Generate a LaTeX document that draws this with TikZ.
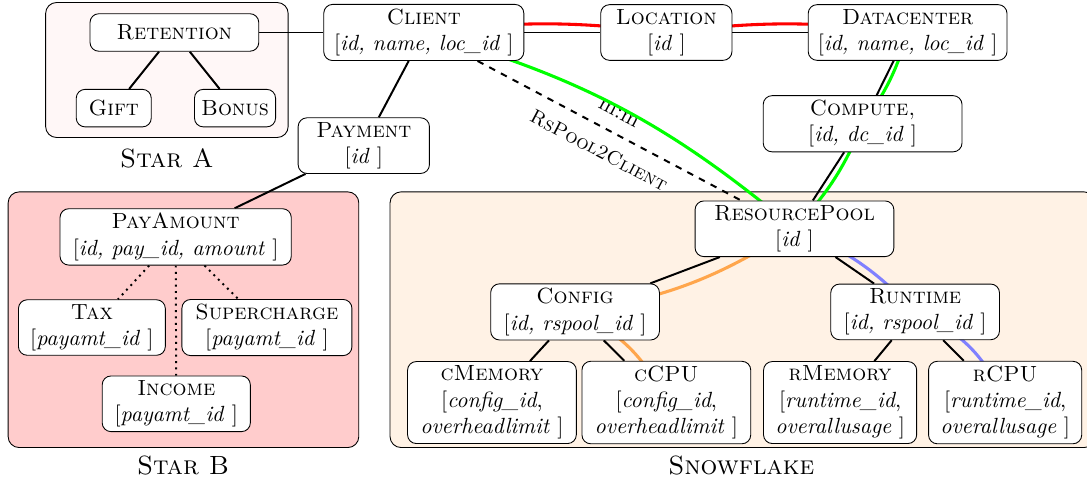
\documentclass[tikz,border=0pt]{standalone}
\usepackage{amsmath}
\usepackage{tikz}
\usetikzlibrary{positioning}
\usepackage{xcolor}

% areas at the back, connectors under the nodes
\pgfdeclarelayer{area}
\pgfdeclarelayer{link}
\pgfsetlayers{area,link,main}

\newcommand{\attr}[1]{[\textit{#1}\ ]}

\begin{document}
\begin{tikzpicture}
      [entity/.style={draw, rectangle, rounded corners, align=center, fill=white,
                      inner xsep=3pt, inner ysep=2pt, minimum height=0.6cm, minimum width=#1},
      entity/.default=2cm,
      link/.style={line width=0.9pt},
      join path/.style={line width=1.4pt},
      area/.style={draw, rounded corners=5pt},
      area label/.style={font=\large\scshape}
      ]
      \useasboundingbox (0,0) rectangle (17.39,7.66);

      % Star A
      \node[entity=2.70cm] (retention) at (2.79,7.14) {\textsc{Retention}};
      \node[entity=1.20cm] (gift) at (1.82,5.93) {\textsc{Gift}};
      \node[entity=1.22cm] (bonus) at (3.76,5.93) {\textsc{Bonus}};

      % top row
      \node[entity=3.20cm] (client) at (6.78,7.14) {\textsc{Client}\\ \attr{id, name, loc\_id}};
      \node[entity=2.10cm] (location) at (10.66,7.14) {\textsc{Location}\\ \attr{id}};
      \node[entity=3.18cm] (datacenter) at (14.52,7.14) {\textsc{Datacenter}\\ \attr{id, name, loc\_id}};
      \node[entity=2.10cm] (payment) at (5.82,5.33) {\textsc{Payment}\\ \attr{id}};
      \node[entity=3.18cm] (compute) at (13.80,5.68) {\textsc{Compute,}\\ \attr{id, dc\_id}};

      % Star B
      \node[entity=3.70cm] (payamount) at (2.81,3.87) {\textsc{PayAmount}\\ \attr{id, pay\_id, amount}};
      \node[entity=2.35cm] (tax) at (1.47,2.42) {\textsc{Tax}\\ \attr{payamt\_id}};
      \node[entity=2.72cm] (supercharge) at (4.27,2.42) {\textsc{Supercharge}\\ \attr{payamt\_id}};
      \node[entity=2.37cm] (income) at (2.82,1.20) {\textsc{Income}\\ \attr{payamt\_id}};

      % Snowflake
      \node[entity=3.18cm] (rspool) at (12.71,4.00) {\textsc{ResourcePool}\\ \attr{id}};
      \node[entity=2.70cm] (config) at (9.20,2.67) {\textsc{Config}\\ \attr{id, rspool\_id}};
      \node[entity=2.70cm] (runtime) at (14.64,2.67) {\textsc{Runtime}\\ \attr{id, rspool\_id}};
      \node[entity=2.70cm] (cmemory) at (7.87,1.22) {\textsc{cMemory}\\ {[}\textit{config\_id},\\ \textit{overheadlimit}\ ]};
      \node[entity=2.70cm] (ccpu) at (10.66,1.22) {\textsc{cCPU}\\ {[}\textit{config\_id},\\ \textit{overheadlimit}\ ]};
      \node[entity=2.45cm] (rmemory) at (13.44,1.22) {\textsc{rMemory}\\ {[}\textit{runtime\_id},\\ \textit{overallusage}\ ]};
      \node[entity=2.45cm] (rcpu) at (16.08,1.22) {\textsc{rCPU}\\ {[}\textit{runtime\_id},\\ \textit{overallusage}\ ]};

      \begin{pgfonlayer}{area}
        \draw[area, fill=red!3] (0.73,5.46) rectangle (4.61,7.62);
        \draw[area, fill=red!20] (0.13,0.50) rectangle (5.74,4.59);
        \draw[area, fill=orange!10] (6.24,0.50) rectangle (17.52,4.59);
      \end{pgfonlayer}
      \node[area label] at (2.67,5.12) {Star A};
      \node[area label] at (2.93,0.21) {Star B};
      \node[area label] at (11.86,0.21) {Snowflake};

      \begin{pgfonlayer}{link}
        \draw[link] (retention) -- (client);
        \draw[link] (retention) -- (gift);
        \draw[link] (retention) -- (bonus);
        \draw[link] (client) -- (location);
        \draw[link] (location) -- (datacenter);
        \draw[link] (client) -- (payment);
        \draw[link] (payment) -- (payamount);
        \draw[link] (datacenter) -- (compute);
        \draw[link] (compute) -- (rspool);
        \draw[link, dotted] (payamount) -- (tax);
        \draw[link, dotted] (payamount) -- (income);
        \draw[link, dotted] (payamount) -- (supercharge);
        \draw[link] (rspool) -- (config);
        \draw[link] (rspool) -- (runtime);
        \draw[link] (config) -- (cmemory);
        \draw[link] (config) -- (ccpu);
        \draw[link] (runtime) -- (rmemory);
        \draw[link] (runtime) -- (rcpu);
        \draw[link, dashed] (client) -- node[sloped, above=3pt] {m:m}
                                        node[sloped, below=3pt, font=\small\scshape] {RsPool2Client} (rspool);

        % join paths
        \draw[join path, red] (client.center) to[bend left=7] (location.center)
                                              to[bend left=7] (datacenter.center);
        \draw[join path, green] (client.center) to[bend left=12] (rspool.center)
                                                to[bend right=10] (compute.center)
                                                to[bend right=10] (datacenter.center);
        \draw[join path, orange!70] (rspool.center) to[bend left=12] (config.center)
                                                    to[bend left=20] (ccpu.center);
        \draw[join path, blue!50] (rspool.center) to[bend left=12] (runtime.center)
                                                  to[bend left=22] (rcpu.center);
      \end{pgfonlayer}
\end{tikzpicture}
\end{document}
